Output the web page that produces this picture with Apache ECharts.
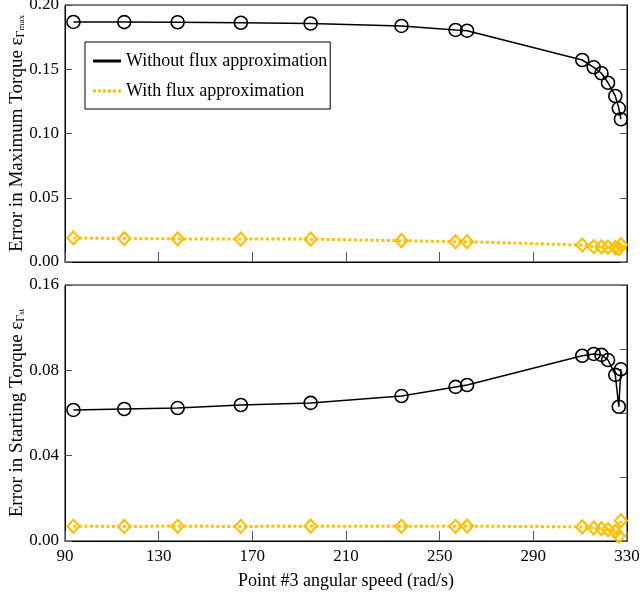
<!DOCTYPE html>
<html>
<head>
<meta charset="utf-8">
<script src="https://cdn.jsdelivr.net/npm/echarts@6/dist/echarts.min.js"></script>
<style>
  html, body { margin: 0; padding: 0; background: #fff; }
  #chart { width: 643px; height: 601px; }
</style>
</head>
<body>
<div id="chart"></div>
<script>
// Point #3 angular speed (rad/s) for each operating point
const speeds = [93.6, 115.3, 138.1, 165.1, 194.9, 233.7, 256.8, 261.7, 310.9, 315.8, 319.1, 321.9, 325.0, 326.5, 327.4];

// Error in maximum torque
const maxTorqueWithout = [0.1868, 0.1867, 0.1866, 0.1862, 0.1856, 0.1837, 0.1806, 0.1800, 0.1572, 0.1515, 0.1469, 0.1395, 0.1292, 0.1196, 0.1111];
const maxTorqueWith = [0.0187, 0.0182, 0.0180, 0.0179, 0.0178, 0.0166, 0.0158, 0.0158, 0.0132, 0.0119, 0.0117, 0.0115, 0.0112, 0.0105, 0.0135];

// Error in starting torque
const startTorqueWithout = [0.0819, 0.0825, 0.0831, 0.0850, 0.0863, 0.0906, 0.0963, 0.0975, 0.1158, 0.1169, 0.1163, 0.1131, 0.1038, 0.0839, 0.1073];
const startTorqueWith = [0.0092, 0.0091, 0.0092, 0.0091, 0.0093, 0.0092, 0.0092, 0.0093, 0.0088, 0.0081, 0.0077, 0.0071, 0.0060, 0.0031, 0.0127];

// Tick labels
const xTickLabels = ['90', '130', '170', '210', '250', '290', '330'];
const topYTickLabels = ['0.00', '0.05', '0.10', '0.15', '0.20'];
const bottomYTickLabels = ['0.00', '0.04', '0.08', '0.16'];

const seriesNames = ['Without flux approximation', 'With flux approximation'];

const FONT = 'Liberation Serif';
const BLACK = '#000000';
const GOLD = '#FFC000';
const TICK = '#555555';

const pair = (xs, ys) => xs.map((x, i) => [x, ys[i]]);

const richName = {
  g: { fontFamily: FONT, fontSize: 19, color: BLACK },
  s: { fontFamily: FONT, fontSize: 12, color: BLACK, padding: [0, 0, -6, 0] },
  ss: { fontFamily: FONT, fontSize: 9, color: BLACK, padding: [0, 0, -9, 0] }
};

function xAxisCfg(gridIndex, showLabels) {
  return {
    type: 'value', gridIndex, min: 90, max: 330, interval: 40,
    axisLine: { show: true, lineStyle: { color: BLACK, width: 1 } },
    axisTick: { show: true, inside: true, length: 10, lineStyle: { color: TICK, width: 1 } },
    axisLabel: {
      show: showLabels, margin: 7, fontFamily: FONT, fontSize: 17, color: BLACK,
      formatter: v => xTickLabels[Math.round((v - 90) / 40)]
    },
    splitLine: { show: false },
    name: showLabels ? 'Point #3 angular speed (rad/s)' : '',
    nameLocation: 'middle', nameGap: 31, nameMoveOverlap: false,
    nameTextStyle: { fontFamily: FONT, fontSize: 18, color: BLACK }
  };
}

function leftYCfg(gridIndex, max, interval, labels, name) {
  return {
    type: 'value', gridIndex, position: 'left', min: 0, max, interval,
    axisLine: { show: true, lineStyle: { color: BLACK, width: 1 } },
    axisTick: { show: true, inside: true, length: 7, lineStyle: { color: TICK, width: 1 } },
    axisLabel: {
      margin: 6, fontFamily: FONT, fontSize: 17, color: BLACK,
      formatter: v => labels[Math.round(v / interval)]
    },
    splitLine: { show: false },
    name, nameLocation: 'middle', nameGap: 38, nameMoveOverlap: false,
    nameTextStyle: { rich: richName, fontFamily: FONT, fontSize: 19, color: BLACK }
  };
}

function rightYCfg(gridIndex, max, interval) {
  return {
    type: 'value', gridIndex, position: 'right', min: 0, max, interval,
    axisLine: { show: true, lineStyle: { color: BLACK, width: 1 } },
    axisTick: { show: true, inside: true, length: 7, lineStyle: { color: TICK, width: 1 } },
    axisLabel: { show: false },
    splitLine: { show: false }
  };
}

function solidSeries(name, xi, yi, data) {
  return {
    name, type: 'line', xAxisIndex: xi, yAxisIndex: yi, data,
    symbol: 'circle', symbolSize: 13, z: 3,
    lineStyle: { color: BLACK, width: 1.5 },
    itemStyle: { color: 'transparent', borderColor: BLACK, borderWidth: 1.6 },
    emphasis: { disabled: true }, animation: false
  };
}

function dottedSeries(name, xi, yi, data) {
  return {
    name, type: 'line', xAxisIndex: xi, yAxisIndex: yi, data,
    symbol: 'diamond', symbolSize: [12, 13], z: 2,
    lineStyle: { color: GOLD, width: 3, type: [3, 2.5], cap: 'butt' },
    itemStyle: { color: 'transparent', borderColor: GOLD, borderWidth: 2.2 },
    emphasis: { disabled: true }, animation: false
  };
}

const chart = echarts.init(document.getElementById('chart'), null, { renderer: 'canvas' });

const gridBase = { left: 65, right: 16, show: true, borderColor: BLACK, borderWidth: 1, outerBoundsMode: 'none', containLabel: false };

chart.setOption({
  backgroundColor: '#ffffff',
  animation: false,
  textStyle: { fontFamily: FONT },
  grid: [
    Object.assign({ top: 5, height: 257 }, gridBase),
    Object.assign({ top: 285, height: 256 }, gridBase)
  ],
  legend: {
    left: 85, top: 42, orient: 'vertical',
    borderColor: BLACK, borderWidth: 1, padding: [10, 3, 9, 8],
    itemWidth: 28, itemHeight: 3, itemGap: 12,
    textStyle: { fontFamily: FONT, fontSize: 18, color: BLACK },
    data: [
      { name: seriesNames[0], icon: 'path://M0,0h28v3h-28z', itemStyle: { color: BLACK, borderWidth: 0 } },
      { name: seriesNames[1], icon: 'path://M0,0h3v3h-3zM5,0h3v3h-3zM10,0h3v3h-3zM15,0h3v3h-3zM20,0h3v3h-3zM25,0h3v3h-3z', itemStyle: { color: GOLD, borderWidth: 0 } }
    ],
    selectedMode: false
  },
  xAxis: [xAxisCfg(0, false), xAxisCfg(1, true)],
  yAxis: [
    leftYCfg(0, 0.20, 0.05, topYTickLabels, 'Error in Maximum Torque {g|ε}{s|Γ}{ss|max}'),
    leftYCfg(1, 0.16, 0.16 / 3, bottomYTickLabels, 'Error in Starting Torque {g|ε}{s|Γ}{ss|st}'),
    rightYCfg(0, 0.20, 0.05),
    rightYCfg(1, 0.16, 0.04)
  ],
  series: [
    solidSeries(seriesNames[0], 0, 0, pair(speeds, maxTorqueWithout)),
    dottedSeries(seriesNames[1], 0, 0, pair(speeds, maxTorqueWith)),
    solidSeries(seriesNames[0], 1, 1, pair(speeds, startTorqueWithout)),
    dottedSeries(seriesNames[1], 1, 1, pair(speeds, startTorqueWith))
  ]
});
</script>
</body>
</html>
